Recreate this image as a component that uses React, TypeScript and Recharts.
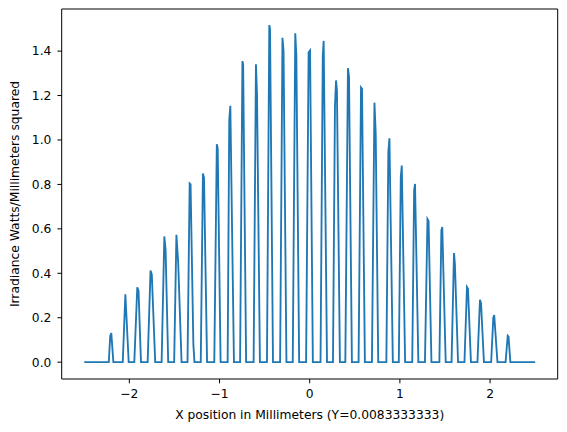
import React from 'react';
import { LineChart, Line, XAxis, YAxis, ReferenceArea } from 'recharts';

const xPositions = [
  -2.5,
  -2.228, -2.212, -2.2, -2.177,
  -2.073, -2.044, -2.007,
  -1.945, -1.912, -1.898, -1.871,
  -1.797, -1.765, -1.751, -1.713,
  -1.642, -1.612, -1.598, -1.569,
  -1.503, -1.478, -1.458, -1.421,
  -1.355, -1.331, -1.321, -1.29, -1.278,
  -1.208, -1.184, -1.172, -1.138,
  -1.058, -1.03, -1.02, -0.988,
  -0.91, -0.892, -0.88, -0.84,
  -0.772, -0.746, -0.738, -0.705,
  -0.622, -0.596, -0.584, -0.552,
  -0.474, -0.448, -0.44, -0.407,
  -0.328, -0.302, -0.29, -0.258,
  -0.188, -0.16, -0.148, -0.117,
  -0.04, -0.012, 0.004, 0.035,
  0.12, 0.145, 0.155, 0.192,
  0.258, 0.28, 0.292, 0.302, 0.335,
  0.395, 0.424, 0.436, 0.468,
  0.542, 0.569, 0.58, 0.612,
  0.69, 0.718, 0.732, 0.76,
  0.85, 0.872, 0.884, 0.922,
  0.988, 1.01, 1.021, 1.058,
  1.137, 1.158, 1.168, 1.205,
  1.278, 1.306, 1.318, 1.35,
  1.438, 1.46, 1.47, 1.508,
  1.573, 1.6, 1.61, 1.645,
  1.716, 1.744, 1.755, 1.788,
  1.86, 1.888, 1.9, 1.932,
  2.012, 2.036, 2.046, 2.082,
  2.172, 2.196, 2.205, 2.225,
  2.5,
];

const irradiance = [
  0,
  0, 0.118, 0.131, 0,
  0, 0.306, 0,
  0, 0.337, 0.322, 0,
  0, 0.412, 0.395, 0,
  0, 0.566, 0.505, 0,
  0, 0.573, 0.445, 0,
  0, 0.804, 0.8, 0.08, 0,
  0, 0.849, 0.83, 0,
  0, 0.981, 0.96, 0,
  0, 1.09, 1.154, 0,
  0, 1.355, 1.34, 0,
  0, 1.341, 1.2, 0,
  0, 1.517, 1.5, 0,
  0, 1.46, 1.4, 0,
  0, 1.48, 1.38, 0,
  0, 1.395, 1.403, 0,
  0, 1.38, 1.446, 0,
  0, 1.15, 1.268, 1.224, 0,
  0, 1.323, 1.284, 0,
  0, 1.236, 1.23, 0,
  0, 1.168, 1.03, 0,
  0, 0.946, 1.008, 0,
  0, 0.833, 0.885, 0,
  0, 0.773, 0.802, 0,
  0, 0.644, 0.635, 0,
  0, 0.593, 0.608, 0,
  0, 0.491, 0.443, 0,
  0, 0.338, 0.33, 0,
  0, 0.281, 0.265, 0,
  0, 0.2, 0.212, 0,
  0, 0.119, 0.115, 0,
  0,
];

const xTicks = [-2, -1, 0, 1, 2];
const yTicks = [0, 0.2, 0.4, 0.6, 0.8, 1.0, 1.2, 1.4];

const data = xPositions.map((x, i) => ({ x, y: irradiance[i] }));

const FONT = 'DejaVu Sans, sans-serif';
const tickStyle = { fill: '#000', fontSize: 12.3, fontFamily: FONT };
const minus = (v: number) => String(v).replace('-', '\u2212');

export default function App() {
  return (
    <div style={{ position: 'absolute', left: 0, top: 0, width: 567, height: 432, background: '#fff' }}>
      <LineChart width={567} height={432} data={data} margin={{ top: 9, right: 9.3, bottom: 8, left: 0 }}>
        <XAxis
          dataKey="x"
          type="number"
          domain={[-2.75, 2.75]}
          ticks={xTicks}
          tickFormatter={minus}
          axisLine={false}
          tickLine={{ stroke: '#000' }}
          tickSize={4.3}
          tickMargin={6}
          tick={tickStyle}
          height={45}
          label={{ value: 'X position in Millimeters (Y=0.0083333333)', position: 'insideBottom', offset: 5, fill: '#000', fontSize: 12.3, fontFamily: FONT }}
        />
        <YAxis
          type="number"
          domain={[-0.0757, 1.5895]}
          ticks={yTicks}
          tickFormatter={(v: number) => v.toFixed(1)}
          axisLine={false}
          tickLine={{ stroke: '#000' }}
          tickSize={4.3}
          tickMargin={6}
          tick={tickStyle}
          width={61.7}
          label={{ value: 'Irradiance Watts/Millimeters squared', angle: -90, position: 'insideLeft', offset: 15, fill: '#000', fontSize: 12.3, fontFamily: FONT, style: { textAnchor: 'middle' } }}
        />
        <Line type="linear" dataKey="y" stroke="#1f77b4" strokeWidth={1.85} dot={false} isAnimationActive={false} />
        <ReferenceArea x1={-2.75} x2={2.75} y1={-0.0757} y2={1.5895} stroke="#000" strokeWidth={1} fill="none" fillOpacity={0} />
      </LineChart>
    </div>
  );
}
